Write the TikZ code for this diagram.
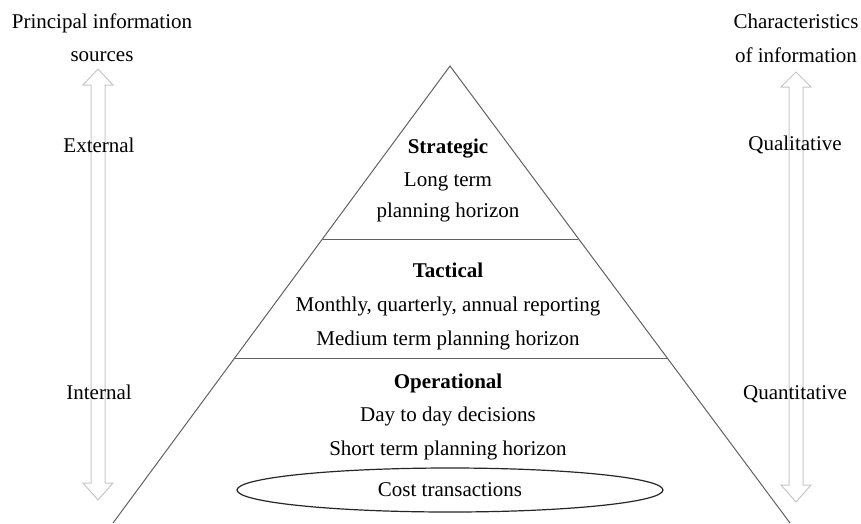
\documentclass[tikz,border=0pt]{standalone}
\usepackage{fontspec}
\setmainfont{Liberation Serif}
\usetikzlibrary{shapes.geometric}
\begin{document}
\begin{tikzpicture}[x=1pt,y=-1pt,
  lbl/.style={font=\fontsize{21}{25}\selectfont, inner sep=0pt, anchor=base},
  hd/.style={lbl, font=\fontsize{21}{25}\selectfont\bfseries},
  edge/.style={draw=black!62, line width=1pt},
  hollow/.style={draw=black!22, line width=1pt, fill=white, line join=miter},
]
\useasboundingbox (0,0) rectangle (861,523);

% pyramid
\coordinate (apex) at (450,66);
\coordinate (bl) at (113,523);
\coordinate (br) at (790,523);
\coordinate (s1) at (323,239);
\coordinate (s2) at (578,239);
\coordinate (t1) at (234,358);
\coordinate (t2) at (667,358);
\draw[edge] (bl) -- (apex) -- (br);
\draw[edge] (s1) -- (s2);
\draw[edge] (t1) -- (t2);

% hollow double arrows
\draw[hollow] (98,69) -- (113,85) -- (105,85) -- (105,483) -- (113,483) -- (98,500)
  -- (83,483) -- (91,483) -- (91,85) -- (83,85) -- cycle;
\draw[hollow] (796,72) -- (811,87) -- (803,87) -- (803,485) -- (811,485) -- (796,502)
  -- (781,485) -- (789,485) -- (789,87) -- (781,87) -- cycle;

% side labels
\node[lbl] (src1) at (102,28) {Principal information};
\node[lbl] (src2) at (102,61) {sources};
\node[lbl] (chr1) at (796,28) {Characteristics};
\node[lbl] (chr2) at (796,62) {of information};
\node[lbl] (ext) at (99,152) {External};
\node[lbl] (int) at (99,399) {Internal};
\node[lbl] (qual) at (795,150) {Qualitative};
\node[lbl] (quan) at (795,399) {Quantitative};

% levels
\node[hd] (str) at (448,153) {Strategic};
\node[lbl] (str1) at (448,186) {Long term};
\node[lbl] (str2) at (448,217) {planning horizon};
\node[hd] (tac) at (448,277) {Tactical};
\node[lbl] (tac1) at (448,311) {Monthly, quarterly, annual reporting};
\node[lbl] (tac2) at (448,345) {Medium term planning horizon};
\node[hd] (ope) at (448,388) {Operational};
\node[lbl] (ope1) at (448,421) {Day to day decisions};
\node[lbl] (ope2) at (448,455) {Short term planning horizon};
\node[ellipse, draw=black!85, line width=1.2pt, minimum width=426, minimum height=44,
  inner sep=0pt, font=\fontsize{21}{25}\selectfont] (cost) at (450,490) {Cost transactions};
\end{tikzpicture}
\end{document}
